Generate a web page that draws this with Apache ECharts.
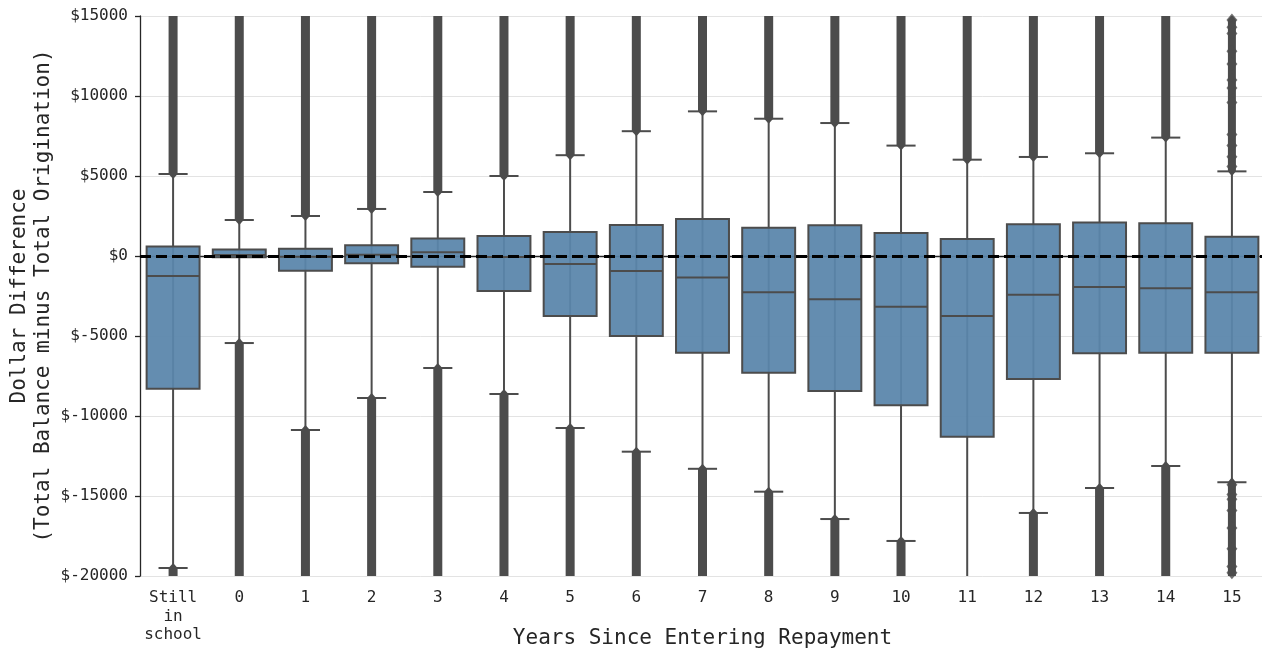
<!DOCTYPE html>
<html>
<head>
<meta charset="utf-8">
<script src="https://cdn.jsdelivr.net/npm/echarts@6/dist/echarts.min.js"></script>
<style>
  html, body { margin: 0; padding: 0; background: #ffffff; }
  #chart { width: 1262px; height: 652px; }
</style>
</head>
<body>
<div id="chart"></div>
<script>
// Years since entering repayment (first group: borrowers still in school)
const categories = ['Still\nin\nschool', '0', '1', '2', '3', '4', '5', '6', '7', '8', '9', '10', '11', '12', '13', '14', '15'];

// Box-plot statistics: balance minus origination, in dollars
const whiskerLow  = [-19500, -5440, -10875, -8875, -7000, -8625, -10750, -12230, -13300, -14730, -16440, -17810, -21500, -16060, -14500, -13125, -14140];
const q1          = [-8300,   -80,   -920,   -460,  -670, -2190,  -3750,  -5000,  -6040,  -7290,  -8440,  -9330, -11290,  -7690,  -6080,  -6040,  -6040];
const median      = [-1250,    60,    -40,     80,   230,   -60,   -500,   -940,  -1350,  -2270,  -2710,  -3170,  -3750,  -2420,  -1940,  -2020,  -2270];
const q3          = [  600,   400,    460,    670,  1100,  1250,   1500,   1940,   2310,   1770,   1920,   1440,   1060,   1980,   2100,   2040,   1210];
const whiskerHigh = [ 5125,  2250,   2500,   2940,  4000,  5000,   6300,   7800,   9040,   8580,   8310,   6900,   6020,   6190,   6420,   7400,   5290];

// Outlier runs beyond the whiskers: [first outlier, farthest outlier]
const fliersAbove = [
  [5125, 15600], [2250, 15600], [2500, 15600], [2940, 15600], [4000, 15600], [5000, 15600],
  [6300, 15600], [7800, 15600], [9040, 15600], [8580, 15600], [8310, 15600], [6900, 15600],
  [6020, 15600], [6190, 15600], [6420, 15600], [7400, 15600], [5290, 14750]
];
const fliersBelow = [
  [-19500, -20600], [-5440, -20600], [-10875, -20600], [-8875, -20600], [-7000, -20600], [-8625, -20600],
  [-10750, -20600], [-12230, -20600], [-13300, -20600], [-14730, -20600], [-16440, -20600], [-17810, -20600],
  null, [-16060, -20600], [-14500, -20600], [-13125, -20600], [-14140, -20000]
];

// Individually visible outliers in the sparser last group
const sparseGroup = 16;
const sparseFliers = [14750, 14300, 13900, 12800, 12000, 11000, 10500, 9600, 7600, 6900, 6200, 5600,
                      -14300, -14900, -15200, -15900, -17000, -18300, -19400, -19800];

// Axis ticks
const yMin = -20000, yMax = 15000, yStep = 5000;

const FONT = 'DejaVu Sans Mono';
const TEXT = '#262626';
const EDGE = '#4c4c4c';
const FILL = 'rgba(90,134,171,0.94)';

const boxData = categories.map((c, i) => [i, whiskerLow[i], q1[i], median[i], q3[i], whiskerHigh[i]]);
const flierData = [];
categories.forEach((c, i) => {
  if (fliersAbove[i]) flierData.push([i, fliersAbove[i][0], fliersAbove[i][1]]);
  if (fliersBelow[i]) flierData.push([i, fliersBelow[i][0], fliersBelow[i][1]]);
});
const sparseData = sparseFliers.map(v => [sparseGroup, v]);

function renderFliers(params, api) {
  const i = api.value(0);
  const inner = api.coord([i, api.value(1)]);
  const outer = api.coord([i, api.value(2)]);
  const cx = inner[0];
  const w = (i === sparseGroup ? 8 : 9) / 2;
  const tip = 5;
  const d = outer[1] > inner[1] ? 1 : -1;
  const yi = inner[1], yo = outer[1];
  return {
    type: 'polygon',
    shape: {
      points: [
        [cx, yi - d * tip], [cx + w, yi], [cx + w, yo],
        [cx, yo + d * tip], [cx - w, yo], [cx - w, yi]
      ]
    },
    style: { fill: EDGE }
  };
}

function renderBox(params, api) {
  const i = api.value(0);
  const band = api.size([1, 0])[0];
  const bw = band * 0.8;
  const cw = band * 0.44;
  const pLow = api.coord([i, api.value(1)]);
  const pQ1 = api.coord([i, api.value(2)]);
  const pMed = api.coord([i, api.value(3)]);
  const pQ3 = api.coord([i, api.value(4)]);
  const pHigh = api.coord([i, api.value(5)]);
  const cx = pQ1[0];
  const lineStyle = { stroke: EDGE, lineWidth: 2, fill: null };
  return {
    type: 'group',
    children: [
      { type: 'line', shape: { x1: cx, y1: pLow[1], x2: cx, y2: pHigh[1] }, style: lineStyle },
      { type: 'line', shape: { x1: cx - cw / 2, y1: pLow[1], x2: cx + cw / 2, y2: pLow[1] }, style: lineStyle },
      { type: 'line', shape: { x1: cx - cw / 2, y1: pHigh[1], x2: cx + cw / 2, y2: pHigh[1] }, style: lineStyle },
      { type: 'rect', shape: { x: cx - bw / 2, y: pQ3[1], width: bw, height: pQ1[1] - pQ3[1] },
        style: { fill: FILL, stroke: EDGE, lineWidth: 2 } },
      { type: 'line', shape: { x1: cx - bw / 2, y1: pMed[1], x2: cx + bw / 2, y2: pMed[1] }, style: lineStyle }
    ]
  };
}

const chart = echarts.init(document.getElementById('chart'), null, { renderer: 'canvas' });
chart.setOption({
  animation: false,
  backgroundColor: '#ffffff',
  textStyle: { fontFamily: FONT, color: TEXT },
  grid: { left: 140, top: 16, width: 1125, bottom: 76, containLabel: false, outerBoundsMode: 'none' },
  xAxis: {
    type: 'category',
    data: categories,
    boundaryGap: true,
    name: 'Years Since Entering Repayment',
    nameLocation: 'middle',
    nameGap: 52,
    nameMoveOverlap: false,
    nameTextStyle: { fontFamily: FONT, fontSize: 21, color: TEXT },
    axisLine: { lineStyle: { color: TEXT, width: 1.3 } },
    axisTick: { alignWithLabel: true, length: 5, lineStyle: { color: TEXT, width: 1.3 } },
    axisLabel: { fontFamily: FONT, fontSize: 16, color: TEXT, margin: 13, lineHeight: 18.5, interval: 0, align: 'center' },
    splitLine: { show: false }
  },
  yAxis: {
    type: 'value',
    min: yMin,
    max: yMax,
    interval: yStep,
    name: 'Dollar Difference\n(Total Balance minus Total Origination)',
    nameLocation: 'middle',
    nameRotate: 90,
    nameGap: 84,
    nameMoveOverlap: false,
    nameTextStyle: { fontFamily: FONT, fontSize: 21, color: TEXT, lineHeight: 24, align: 'center' },
    axisLine: { show: true, lineStyle: { color: TEXT, width: 1.3 } },
    axisTick: { show: true, length: 5, lineStyle: { color: TEXT, width: 1.3 } },
    axisLabel: { fontFamily: FONT, fontSize: 16, color: TEXT, margin: 12, formatter: v => '$' + v },
    splitLine: { show: true, lineStyle: { color: '#e3e3e3', width: 1 } }
  },
  series: [
    {
      type: 'custom',
      name: 'fliers',
      renderItem: renderFliers,
      data: flierData,
      clip: true,
      z: 2
    },
    {
      type: 'scatter',
      name: 'sparse fliers',
      data: sparseData,
      symbol: 'diamond',
      symbolSize: [11, 13],
      itemStyle: { color: EDGE },
      clip: true,
      z: 2
    },
    {
      type: 'custom',
      name: 'boxes',
      renderItem: renderBox,
      data: boxData,
      clip: true,
      z: 3,
      markLine: {
        silent: true,
        symbol: 'none',
        label: { show: false },
        lineStyle: { color: '#000000', width: 3, type: [11, 5] },
        data: [{ yAxis: 0 }],
        z: 10
      }
    }
  ]
});
</script>
</body>
</html>
